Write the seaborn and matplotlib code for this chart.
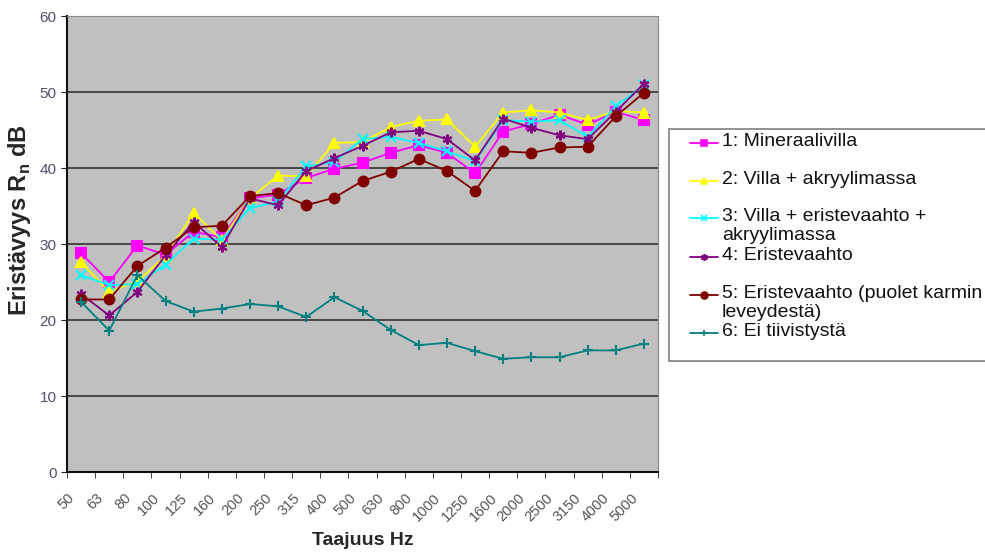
import pandas as pd
import seaborn as sns
import matplotlib.pyplot as plt
from matplotlib.lines import Line2D
from matplotlib.patches import Rectangle

# Frequencies (third-octave bands)
freqs = ['50', '63', '80', '100', '125', '160', '200', '250', '315', '400', '500',
         '630', '800', '1000', '1250', '1600', '2000', '2500', '3150', '4000', '5000']

s1 = [28.8, 25.0, 29.8, 28.6, 31.6, 30.9, 36.0, 36.5, 38.7, 39.9, 40.7,
      42.0, 43.0, 42.0, 39.3, 44.8, 45.8, 47.0, 45.7, 47.4, 46.3]
s2 = [27.6, 23.7, 25.1, 28.4, 34.1, 30.5, 36.0, 39.0, 38.9, 43.3, 43.4,
      45.4, 46.2, 46.4, 42.8, 47.3, 47.6, 47.3, 46.3, 47.5, 47.3]
s3 = [25.9, 24.6, 24.7, 27.3, 30.7, 30.6, 34.7, 35.6, 40.2, 40.8, 43.8,
      44.1, 43.3, 42.2, 40.9, 46.3, 46.1, 46.3, 44.1, 48.1, 50.9]
s4 = [23.4, 20.6, 23.7, 28.5, 32.9, 29.6, 36.0, 35.1, 39.6, 41.3, 42.9,
      44.7, 44.9, 43.8, 41.0, 46.5, 45.3, 44.3, 43.8, 47.4, 51.1]
s5 = [22.7, 22.7, 27.1, 29.5, 32.2, 32.4, 36.3, 36.7, 35.1, 36.1, 38.3,
      39.5, 41.2, 39.6, 37.0, 42.2, 42.0, 42.7, 42.8, 46.8, 49.9]
s6 = [22.4, 18.6, 25.9, 22.5, 21.1, 21.5, 22.1, 21.8, 20.4, 23.0, 21.2,
      18.7, 16.7, 17.0, 15.9, 14.9, 15.1, 15.1, 16.0, 16.0, 16.9]

labels = ['1: Mineraalivilla',
          '2: Villa + akryylimassa',
          '3: Villa + eristevaahto +\nakryylimassa',
          '4: Eristevaahto',
          '5: Eristevaahto (puolet karmin\nleveydestä)',
          '6: Ei tiivistystä']
colors = ['#FF00FF', '#FFFF00', '#00FFFF', '#800080', '#800000', '#008080']
markers = ['s', '^', 'x', (6, 2, 0), 'o', '+']

sns.set_style('white')
plt.rcParams['font.family'] = ['Liberation Sans', 'DejaVu Sans']

W, H = 985, 552
fig = plt.figure(figsize=(W / 100, H / 100), dpi=100)
ax = fig.add_axes([67 / W, 1 - 472 / H, 591 / W, 456 / H])
ax.set_facecolor('#C0C0C0')

pos = list(range(len(freqs)))
for vals, lab, col, mk in zip([s1, s2, s3, s4, s5, s6], labels, colors, markers):
    df = pd.DataFrame({'x': pos, 'y': vals})
    sns.lineplot(data=df, x='x', y='y', ax=ax, color=col, marker=mk, markersize=7,
                 markeredgecolor=col, markeredgewidth=1.5, linewidth=1.3, legend=False)

ax.set_xlim(-0.5, len(freqs) - 0.5)
ax.set_ylim(0, 60)
ax.set_yticks(range(0, 61, 10))
for yv in range(10, 60, 10):
    ax.axhline(yv, color='#333333', linewidth=1.2, zorder=0.5)

# rotated labels sit a little left of the category centre, as in Excel
ax.set_xticks([p - 0.3 for p in pos])
ax.set_xticklabels(freqs, rotation=45, ha='right', va='center', rotation_mode='anchor',
                   color='#555555', fontsize=10.5)
ax.set_xticks([p - 0.5 for p in pos] + [len(freqs) - 0.5], minor=True)
ax.tick_params(axis='x', which='major', length=0, pad=17)
ax.tick_params(axis='x', which='minor', length=4, direction='out', color='#222222', bottom=True)
ax.tick_params(axis='y', length=4, direction='out', color='#222222', left=True,
               labelcolor='#505070', labelsize=11)

for side in ['top', 'right']:
    ax.spines[side].set_color('#888888')
for side in ['left', 'bottom']:
    ax.spines[side].set_color('#111111')
    ax.spines[side].set_linewidth(1.5)

ax.set_xlabel('Taajuus Hz', fontsize=14, fontweight='bold', labelpad=6)
ax.set_ylabel('')
fig.text(20 / W, 1 - 220 / H, 'Eristävyys R$_\\mathregular{n}$ dB', rotation=90,
         fontsize=17, fontweight='bold', ha='center', va='center')

# legend box drawn like the Excel one (wrapped lines, frame cut at the right edge)
fig.patches.append(Rectangle((669 / W, 1 - 361 / H), 330 / W, 232 / H, transform=fig.transFigure,
                             facecolor='white', edgecolor='#888888', linewidth=1.3))
rows = [143, 181, 218, 257, 295, 333]
for lab, col, mk, yy in zip(labels, colors, markers, rows):
    yf = 1 - yy / H
    fig.lines.append(Line2D([690 / W, 718 / W], [yf, yf], transform=fig.transFigure,
                            color=col, linewidth=1.3))
    fig.lines.append(Line2D([704 / W], [yf], transform=fig.transFigure, color=col, marker=mk,
                            markersize=5, markeredgewidth=1.2, markeredgecolor=col))
    fig.text(722 / W, yf + 10 / H, lab, fontsize=14, ha='left', va='top', linespacing=1.12,
             color='#111111')

fig.savefig('out.png', dpi=100)
